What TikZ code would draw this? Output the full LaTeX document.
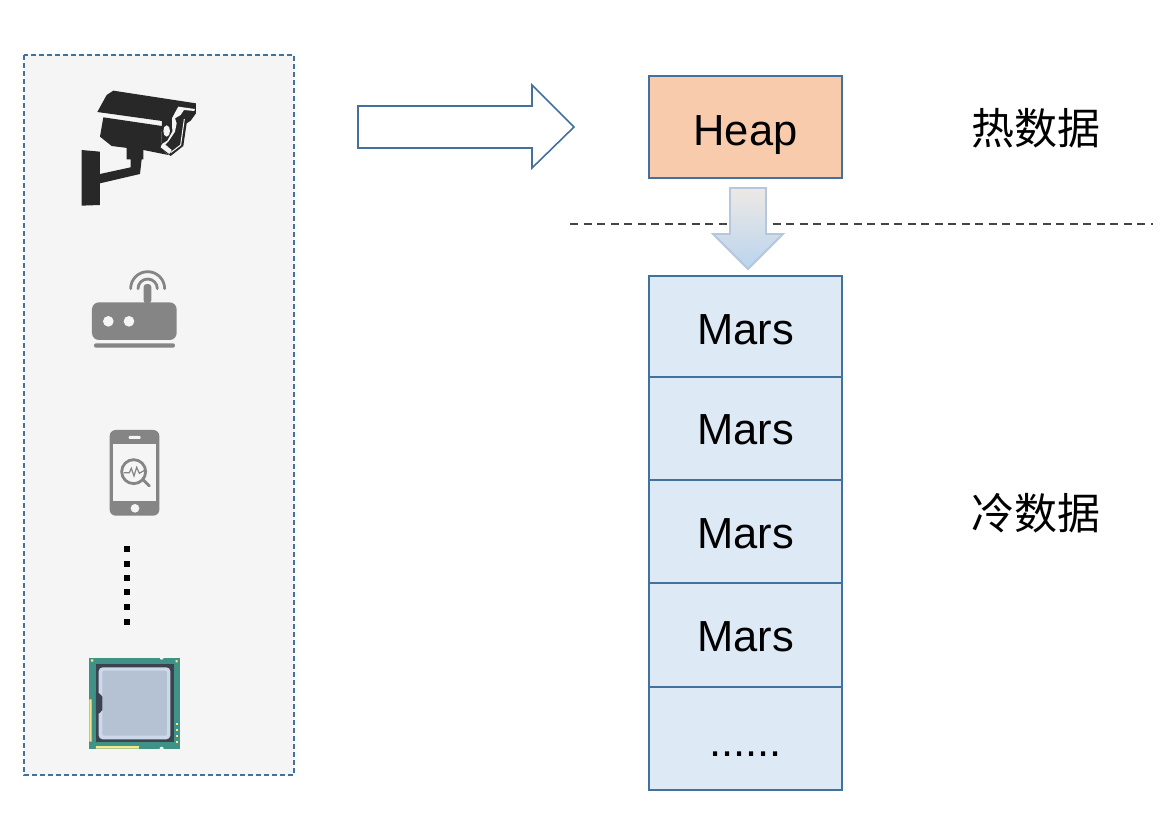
\documentclass[tikz,border=0pt]{standalone}
\usepackage{fontspec}
\setmainfont{Liberation Sans}
\newfontfamily\cjk{Noto Sans CJK SC}
\usepackage{xcolor}
\usetikzlibrary{calc}
\definecolor{edgeblue}{HTML}{41719C}
\definecolor{panelgray}{HTML}{F5F5F5}
\definecolor{heapfill}{HTML}{F8CBAD}
\definecolor{marsfill}{HTML}{DEE9F6}
\definecolor{camblack}{HTML}{282828}
\definecolor{icongray}{HTML}{858585}
\definecolor{chipgreen}{HTML}{3F9285}
\definecolor{chipdark}{HTML}{3B4350}
\definecolor{chiplight}{HTML}{CDD8E8}
\definecolor{chipcore}{HTML}{B5C2D3}
\definecolor{chipgold}{HTML}{F3E98C}
\definecolor{splitgray}{HTML}{444444}
\definecolor{downedge}{HTML}{B4C7DC}
\definecolor{downtop}{HTML}{EDE9E4}
\definecolor{downbottom}{HTML}{BAD4EE}
\tikzset{
  blockbox/.style={draw=edgeblue,line width=1.6pt,minimum width=193pt,inner sep=0pt,text height=36pt,text depth=0pt,font=\fontsize{43.5}{44}\selectfont},
  sidelabel/.style={inner sep=0pt,font=\cjk\fontsize{43}{43}\selectfont},
  zoomed/.style={x=0.3333pt,y=-0.3333pt}
}
\begin{document}
\begin{tikzpicture}[x=1pt,y=-1pt]
\useasboundingbox (0,0) rectangle (1174,814);
\draw[edgeblue,line width=1.7pt,dash pattern=on 5pt off 3pt,fill=panelgray] (24,55) rectangle (294,775);
% camera
\begin{scope}[shift={(60,70)},zoomed]
\fill[camblack] (112,126) -- (140,75) -- (160,62) -- (408,100) -- (408,130) -- (392,152) -- (380,160) -- (370,228) -- (332,258) -- (303,237) -- (306,168) -- (306,153) -- cycle;
\fill[camblack] (130,142) -- (306,168) -- (303,235) -- (325,255) -- (250,240) -- (155,228) -- (120,200) -- cycle;
\fill[camblack] (200,230) -- (250,235) -- (250,268) -- (245,268) -- (240,312) -- (120,340) -- (120,312) -- (212,292) -- (212,268) -- (200,268) -- cycle;
\fill[camblack] (65,240) -- (120,245) -- (120,405) -- (65,407) -- cycle;
\fill[panelgray] (355,110) -- (405,117) -- (403,123) -- (372,120) -- (362,135) -- (345,145) -- (350,160) -- (345,185) -- (325,215) -- (316,224) -- (335,240) -- (328,252) -- (302,232) -- (306,222) -- (322,212) -- (337,185) -- (336,145) -- (345,128) -- cycle;
\draw[panelgray,line width=1pt] (373,147) -- (362,225) -- (332,248);
\fill[panelgray] (320,183) ellipse (10 and 17);
\end{scope}
% router
\begin{scope}[shift={(70,260)},zoomed]
\fill[icongray,rounded corners=7pt] (66,127) rectangle (320,240);
\fill[icongray,rounded corners=2pt] (72,250) rectangle (315,263);
\fill[icongray,rounded corners=3pt] (221,130) -- (221,72) -- (244,72) -- (244,130) -- cycle;
\fill[panelgray] (115,184) circle (16) (177,184) circle (16);
\draw[icongray,line width=2.8pt,line cap=round] (182,86) arc (180:360:51);
\draw[icongray,line width=2.8pt,line cap=round] (204,86) arc (180:360:29);
\end{scope}
% phone
\begin{scope}[shift={(70,260)},zoomed]
\fill[icongray,rounded corners=6pt] (119,510) rectangle (268,767);
\fill[panelgray] (128,553) rectangle (259,723);
\fill[panelgray,rounded corners=1pt] (176,528) rectangle (212,537);
\fill[panelgray] (195,745) circle (13);
\draw[icongray,line width=2.8pt] (191,635) circle (36);
\draw[icongray,line width=2.8pt,line cap=round] (219,659) -- (238,678);
\draw[icongray,line width=1.2pt] (162,638) -- (178,638) -- (184,625) -- (192,648) -- (200,622) -- (208,640) -- (222,632);
\end{scope}
% dots
\foreach \y in {549,563.5,578,592,607,621.5}
    \fill[black] (124,\y-3) rectangle (130,\y+3);
% chip
\begin{scope}[shift={(70,640)},zoomed]
\fill[chipgreen] (58,53) rectangle (330,326);
\fill[chipdark] (78,72) rectangle (311,306);
\fill[chiplight,rounded corners=4pt] (86,82) rectangle (301,298);
\fill[chipcore,rounded corners=2pt] (97,92) rectangle (291,287);
\fill[chipdark] (78,158) -- (88,160) -- (97,170) -- (97,210) -- (88,220) -- (78,222) -- cycle;
\fill[chipgold] (58,178) rectangle (65,305) (78,318) rectangle (207,326);
\fill[chipgold] (63,58) rectangle (70,65) (317,60) rectangle (323,67);
\foreach \y in {248,266,284,302}
    \fill[chipgold] (317,\y) rectangle (323,\y+7);
\fill[panelgray] (275,53) circle (6) (275,326) circle (6);
\end{scope}
% separator
\coordinate (splitl) at (570,224);
\coordinate (splitr) at (1153,224);
\draw[splitgray,line width=1.5pt,dash pattern=on 8pt off 5.5pt] (splitl) -- (splitr);
% boxes
\node[blockbox,fill=heapfill,minimum height=102pt] (heap) at (745.5,127) {Heap};
\foreach \name/\yc/\hh/\th in {marsa/326.5/101/36,marsb/428.5/103/32,marsc/531.5/103/34,marsd/635/104/32}
    \node[blockbox,fill=marsfill,minimum height=\hh pt,text height=\th pt] (\name) at (745.5,\yc) {Mars};
\node[blockbox,fill=marsfill,minimum height=103pt] (marse) at (745.5,738.5) {......};
% arrows
\draw[edgeblue,line width=1.6pt,fill=white] (358,106) -- (532,106) -- (532,85) -- (574,127) -- (532,168) -- (532,148) -- (358,148) -- cycle;
\draw[downedge,line width=1.8pt,top color=downtop,bottom color=downbottom] (730,188) -- (766,188) -- (766,234) -- (783,234) -- (748,269) -- (713,234) -- (730,234) -- cycle;
% labels
\node[sidelabel] (hotlabel) at (1036,128) {热数据};
\node[sidelabel] (coldlabel) at (1036,513) {冷数据};
\end{tikzpicture}
\end{document}
